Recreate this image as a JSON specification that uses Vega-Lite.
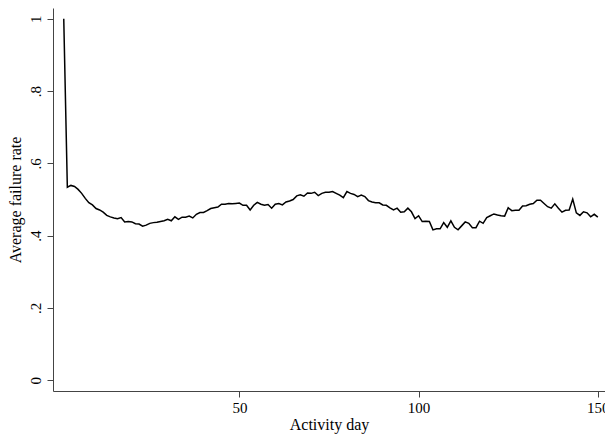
{
  "$schema": "https://vega.github.io/schema/vega-lite/v6.json",
  "autosize": "none",
  "width": 552,
  "height": 383,
  "padding": {"left": 53, "top": 8, "right": 0, "bottom": 44},
  "background": "white",
  "config": {
    "view": {"stroke": null},
    "font": "Liberation Serif",
    "axis": {
      "grid": false,
      "domainColor": "#444444",
      "tickColor": "#444444",
      "labelColor": "black",
      "titleColor": "black",
      "labelFont": "Liberation Serif",
      "titleFont": "Liberation Serif",
      "labelFontSize": 15,
      "titleFontSize": 16,
      "titleFontWeight": "normal",
      "tickSize": 6,
      "domainWidth": 1,
      "tickWidth": 1
    }
  },
  "data": {
    "values": [
      {"day": 1, "rate": 1.0},
      {"day": 2, "rate": 0.534},
      {"day": 3, "rate": 0.539},
      {"day": 4, "rate": 0.536},
      {"day": 5, "rate": 0.528},
      {"day": 6, "rate": 0.517},
      {"day": 7, "rate": 0.503},
      {"day": 8, "rate": 0.491},
      {"day": 9, "rate": 0.485},
      {"day": 10, "rate": 0.475},
      {"day": 11, "rate": 0.471},
      {"day": 12, "rate": 0.465},
      {"day": 13, "rate": 0.456},
      {"day": 14, "rate": 0.452},
      {"day": 15, "rate": 0.449},
      {"day": 16, "rate": 0.447},
      {"day": 17, "rate": 0.450},
      {"day": 18, "rate": 0.438},
      {"day": 19, "rate": 0.439},
      {"day": 20, "rate": 0.438},
      {"day": 21, "rate": 0.433},
      {"day": 22, "rate": 0.432},
      {"day": 23, "rate": 0.426},
      {"day": 24, "rate": 0.429},
      {"day": 25, "rate": 0.434},
      {"day": 26, "rate": 0.436},
      {"day": 27, "rate": 0.437},
      {"day": 28, "rate": 0.439},
      {"day": 29, "rate": 0.441},
      {"day": 30, "rate": 0.445},
      {"day": 31, "rate": 0.441},
      {"day": 32, "rate": 0.452},
      {"day": 33, "rate": 0.445},
      {"day": 34, "rate": 0.451},
      {"day": 35, "rate": 0.451},
      {"day": 36, "rate": 0.454},
      {"day": 37, "rate": 0.449},
      {"day": 38, "rate": 0.459},
      {"day": 39, "rate": 0.464},
      {"day": 40, "rate": 0.464},
      {"day": 41, "rate": 0.469},
      {"day": 42, "rate": 0.475},
      {"day": 43, "rate": 0.477},
      {"day": 44, "rate": 0.479},
      {"day": 45, "rate": 0.487},
      {"day": 46, "rate": 0.487},
      {"day": 47, "rate": 0.489},
      {"day": 48, "rate": 0.488},
      {"day": 49, "rate": 0.489},
      {"day": 50, "rate": 0.490},
      {"day": 51, "rate": 0.484},
      {"day": 52, "rate": 0.484},
      {"day": 53, "rate": 0.471},
      {"day": 54, "rate": 0.484},
      {"day": 55, "rate": 0.492},
      {"day": 56, "rate": 0.487},
      {"day": 57, "rate": 0.484},
      {"day": 58, "rate": 0.486},
      {"day": 59, "rate": 0.476},
      {"day": 60, "rate": 0.487},
      {"day": 61, "rate": 0.489},
      {"day": 62, "rate": 0.485},
      {"day": 63, "rate": 0.493},
      {"day": 64, "rate": 0.496},
      {"day": 65, "rate": 0.500},
      {"day": 66, "rate": 0.510},
      {"day": 67, "rate": 0.513},
      {"day": 68, "rate": 0.509},
      {"day": 69, "rate": 0.518},
      {"day": 70, "rate": 0.517},
      {"day": 71, "rate": 0.520},
      {"day": 72, "rate": 0.511},
      {"day": 73, "rate": 0.517},
      {"day": 74, "rate": 0.520},
      {"day": 75, "rate": 0.520},
      {"day": 76, "rate": 0.522},
      {"day": 77, "rate": 0.517},
      {"day": 78, "rate": 0.512},
      {"day": 79, "rate": 0.505},
      {"day": 80, "rate": 0.522},
      {"day": 81, "rate": 0.517},
      {"day": 82, "rate": 0.514},
      {"day": 83, "rate": 0.508},
      {"day": 84, "rate": 0.512},
      {"day": 85, "rate": 0.508},
      {"day": 86, "rate": 0.497},
      {"day": 87, "rate": 0.493},
      {"day": 88, "rate": 0.491},
      {"day": 89, "rate": 0.491},
      {"day": 90, "rate": 0.485},
      {"day": 91, "rate": 0.484},
      {"day": 92, "rate": 0.477},
      {"day": 93, "rate": 0.471},
      {"day": 94, "rate": 0.476},
      {"day": 95, "rate": 0.465},
      {"day": 96, "rate": 0.466},
      {"day": 97, "rate": 0.476},
      {"day": 98, "rate": 0.466},
      {"day": 99, "rate": 0.447},
      {"day": 100, "rate": 0.455},
      {"day": 101, "rate": 0.439},
      {"day": 102, "rate": 0.440},
      {"day": 103, "rate": 0.439},
      {"day": 104, "rate": 0.416},
      {"day": 105, "rate": 0.419},
      {"day": 106, "rate": 0.419},
      {"day": 107, "rate": 0.436},
      {"day": 108, "rate": 0.423},
      {"day": 109, "rate": 0.441},
      {"day": 110, "rate": 0.423},
      {"day": 111, "rate": 0.416},
      {"day": 112, "rate": 0.427},
      {"day": 113, "rate": 0.438},
      {"day": 114, "rate": 0.434},
      {"day": 115, "rate": 0.422},
      {"day": 116, "rate": 0.422},
      {"day": 117, "rate": 0.440},
      {"day": 118, "rate": 0.434},
      {"day": 119, "rate": 0.450},
      {"day": 120, "rate": 0.455},
      {"day": 121, "rate": 0.460},
      {"day": 122, "rate": 0.457},
      {"day": 123, "rate": 0.455},
      {"day": 124, "rate": 0.454},
      {"day": 125, "rate": 0.477},
      {"day": 126, "rate": 0.469},
      {"day": 127, "rate": 0.470},
      {"day": 128, "rate": 0.470},
      {"day": 129, "rate": 0.482},
      {"day": 130, "rate": 0.483},
      {"day": 131, "rate": 0.487},
      {"day": 132, "rate": 0.489},
      {"day": 133, "rate": 0.498},
      {"day": 134, "rate": 0.498},
      {"day": 135, "rate": 0.489},
      {"day": 136, "rate": 0.480},
      {"day": 137, "rate": 0.476},
      {"day": 138, "rate": 0.488},
      {"day": 139, "rate": 0.476},
      {"day": 140, "rate": 0.465},
      {"day": 141, "rate": 0.470},
      {"day": 142, "rate": 0.471},
      {"day": 143, "rate": 0.501},
      {"day": 144, "rate": 0.463},
      {"day": 145, "rate": 0.456},
      {"day": 146, "rate": 0.466},
      {"day": 147, "rate": 0.463},
      {"day": 148, "rate": 0.452},
      {"day": 149, "rate": 0.459},
      {"day": 150, "rate": 0.451}
    ]
  },
  "mark": {"type": "line", "color": "black", "strokeWidth": 1.5, "clip": false},
  "encoding": {
    "x": {
      "field": "day",
      "type": "quantitative",
      "scale": {"domain": [-2, 152], "nice": false, "zero": false},
      "axis": {"values": [50, 100, 150], "title": "Activity day", "labelPadding": 3, "titlePadding": 1}
    },
    "y": {
      "field": "rate",
      "type": "quantitative",
      "scale": {"domain": [-0.03, 1.03], "nice": false, "zero": false},
      "axis": {
        "values": [0, 0.2, 0.4, 0.6, 0.8, 1],
        "labelExpr": "datum.value == 0 ? '0' : datum.value == 1 ? '1' : replace(format(datum.value, '.1f'), '0.', '.')",
        "labelAngle": -90,
        "labelAlign": "center",
        "labelBaseline": "bottom",
        "labelPadding": 4,
        "title": "Average failure rate",
        "titlePadding": 5
      }
    }
  }
}
